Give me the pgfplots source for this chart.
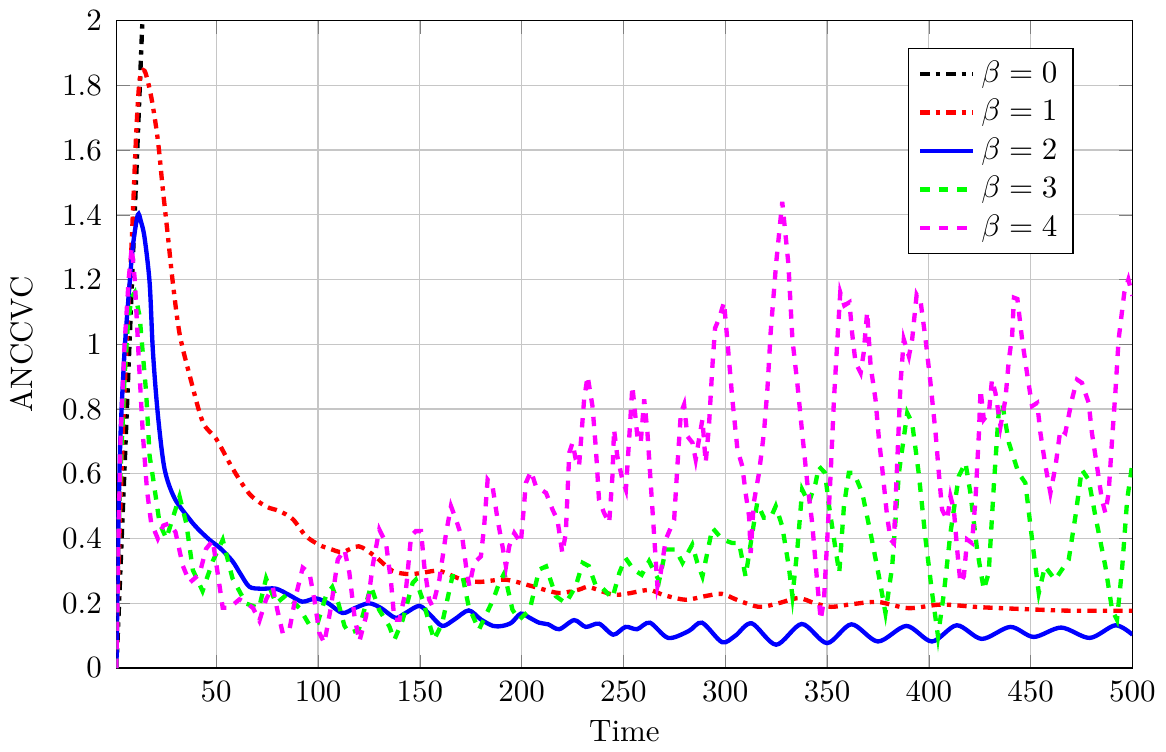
\documentclass[border=0pt]{standalone}
\usepackage{pgfplots}
\pgfplotsset{compat=1.18}
\definecolor{mag}{rgb}{1,0,1}
\definecolor{grn}{rgb}{0,1,0}
\begin{document}
\begin{tikzpicture}
\begin{axis}[
  scale only axis,
  width=328pt, height=209pt,
  xmin=1, xmax=500, ymin=0, ymax=2,
  xtick={50,100,...,500},
  ytick={0,0.2,...,2},
  yticklabels={0,0.2,0.4,0.6,0.8,1,1.2,1.4,1.6,1.8,2},
  xticklabel style={yshift=-0.8pt},
  yticklabel style={xshift=-1.2pt},
  xlabel style={yshift=0.8pt},
  ylabel style={yshift=2.5pt},
  grid=major,
  major grid style={gray!45},
  xlabel={Time}, ylabel={ANCCVC},
  legend style={at={(0.942,0.958)}, anchor=north east, cells={anchor=west}},
  legend cell align=left,
]
\addplot[black, line width=1.4pt, dash dot] coordinates {(1,0)(5,0.62)(9,1.25)(12,1.72)(14.5,2.12)};
\addlegendentry{$\beta=0$}
\addplot[red, line width=1.4pt, dash dot, smooth] coordinates {
(1,0)(2,0.3)(4,0.7)(6,1.0)(8.3,1.29)(10.7,1.65)(12.4,1.816)(14.8,1.845)(18.1,1.764)(21.3,1.633)(23.8,1.478)(26.3,1.333)(28.7,1.19)(32,1.033)(37,0.903)(43.4,0.76)(50,0.708)(58.1,0.616)(66.3,0.538)(74.5,0.499)(81,0.485)(87.6,0.46)(94,0.408)(100.7,0.38)(106,0.368)(112,0.358)(120,0.376)(128,0.345)(136.6,0.30)(145,0.29)(152,0.295)(159.6,0.30)(170,0.275)(179,0.266)(192,0.273)(205,0.253)(218,0.232)(228,0.242)(233,0.25)(244.6,0.227)(252,0.23)(262.6,0.241)(270,0.225)(280.6,0.211)(290,0.222)(298.4,0.229)(306,0.21)(316.6,0.189)(326,0.2)(336,0.216)(344,0.2)(352,0.189)(362,0.197)(375,0.204)(390,0.185)(406,0.196)(425,0.188)(447,0.182)(470,0.177)(500,0.177)};
\addlegendentry{$\beta=1$}
\addplot[blue, line width=1.4pt, smooth] coordinates {
(1,0)(2,0.45)(3,0.72)(5,0.98)(7,1.15)(9,1.30)(11.5,1.40)(13,1.38)(14.8,1.33)(17.3,1.19)(18.9,0.98)(21.3,0.786)(24.6,0.616)(29.5,0.525)(36.9,0.46)(41,0.43)(46.7,0.396)(52,0.37)(58,0.33)(62,0.29)(66.3,0.251)(72,0.245)(79.4,0.245)(86,0.225)(92.3,0.205)(99,0.215)(105,0.20)(112,0.17)(118,0.185)(125,0.20)(131,0.185)(138,0.155)(143,0.17)(149.8,0.192)(155,0.165)(161,0.13)(167,0.15)(174,0.178)(180,0.15)(186,0.13)(190.5,0.13)(195,0.14)(199.6,0.168)(204,0.155)(208.6,0.14)(213,0.135)(218.5,0.12)(225.8,0.148)(231.5,0.127)(238,0.137)(245,0.103)(251,0.127)(256.7,0.12)(263,0.14)(272,0.093)(282,0.114)(288.6,0.14)(298.4,0.08)(305,0.1)(313,0.138)(325,0.072)(337.6,0.136)(350,0.077)(362,0.135)(375,0.082)(389,0.13)(401.5,0.082)(413.7,0.132)(426,0.09)(440,0.127)(451.5,0.096)(465,0.125)(479,0.093)(491.6,0.132)(500,0.103)};
\addlegendentry{$\beta=2$}
\addplot[grn, line width=1.4pt, dashed] coordinates {
(1,0)(2,0.4)(3,0.6)(5,0.9)(6.5,1.05)(8.3,1.144)(10,1.16)(12.4,1.086)(15.6,0.85)(17.3,0.655)(18.9,0.59)(22.2,0.447)(25.5,0.40)(28,0.45)(32,0.53)(35.3,0.447)(38.5,0.303)(43.3,0.238)(48.3,0.33)(53.2,0.396)(58,0.277)(64.7,0.199)(71,0.185)(74.5,0.277)(79.4,0.199)(84.3,0.225)(90.9,0.185)(95.8,0.133)(99.8,0.139)(104,0.225)(107,0.25)(110,0.2)(113,0.13)(115.4,0.108)(120,0.118)(126,0.253)(130,0.18)(135,0.129)(137.5,0.087)(141.6,0.149)(146.5,0.263)(148,0.273)(151.4,0.211)(154.6,0.139)(157,0.087)(161,0.139)(166,0.283)(171,0.283)(174,0.19)(179,0.118)(186,0.211)(189,0.263)(191.5,0.293)(195.5,0.18)(198.8,0.149)(204,0.18)(208.6,0.304)(212,0.314)(216.8,0.222)(221.7,0.2)(226.6,0.253)(230,0.325)(233,0.315)(236.5,0.253)(239.6,0.247)(244.6,0.216)(248,0.294)(251,0.34)(255,0.304)(259,0.288)(262.6,0.33)(267.5,0.269)(270.8,0.366)(275.7,0.366)(279,0.325)(283.8,0.381)(286.3,0.325)(288.8,0.283)(290.5,0.335)(293.7,0.433)(298.6,0.397)(303.5,0.386)(306.8,0.386)(310,0.283)(313.3,0.417)(315.7,0.51)(319,0.464)(322.3,0.464)(324.8,0.5)(328,0.438)(331.2,0.314)(333,0.222)(335.4,0.366)(337.8,0.551)(341,0.51)(344.4,0.572)(346,0.623)(349,0.603)(351,0.5)(354.2,0.366)(356,0.294)(358.3,0.5)(360.7,0.603)(363.2,0.603)(367.3,0.541)(372,0.397)(375.5,0.283)(378.7,0.17)(382,0.314)(385.3,0.603)(389.4,0.788)(391.8,0.757)(395,0.603)(398.4,0.397)(401.6,0.232)(404.5,0.098)(407.4,0.232)(410.6,0.417)(414.7,0.593)(418,0.634)(420.4,0.541)(423.7,0.366)(427,0.242)(429.4,0.294)(432,0.572)(434.4,0.798)(436,0.819)(439.3,0.696)(444,0.603)(447.4,0.572)(450.7,0.397)(454,0.232)(457,0.314)(462,0.273)(468.7,0.335)(472,0.469)(475.1,0.613)(478.5,0.582)(481.8,0.469)(486.7,0.314)(490,0.18)(492.4,0.149)(495,0.314)(497.4,0.52)(500,0.634)};
\addlegendentry{$\beta=3$}
\addplot[mag, line width=1.4pt, dashed] coordinates {
(1,0)(2,0.4)(3,0.7)(5,1.0)(7,1.2)(8.5,1.3)(10,1.2)(12,0.95)(14,0.72)(16,0.55)(18,0.45)(21.3,0.40)(24,0.44)(27,0.447)(30,0.42)(33.6,0.316)(37,0.264)(41.8,0.29)(45,0.368)(48.3,0.394)(50.8,0.29)(53.2,0.186)(56.5,0.186)(61.4,0.212)(65,0.2)(68,0.186)(71.2,0.146)(74.5,0.212)(77.8,0.25)(80,0.18)(82.7,0.107)(86,0.12)(89,0.22)(92.5,0.31)(95.8,0.294)(98.2,0.211)(100.7,0.108)(103.1,0.077)(106.4,0.19)(109.7,0.335)(113,0.366)(115.4,0.294)(117.9,0.16)(120.3,0.082)(123.6,0.16)(126.8,0.314)(130.1,0.428)(133.4,0.386)(135.9,0.263)(137.5,0.149)(140,0.149)(143.2,0.242)(145.7,0.407)(148,0.423)(150.6,0.423)(152.2,0.314)(154.6,0.211)(156.3,0.19)(159.6,0.273)(162.9,0.417)(165.3,0.5)(167.8,0.458)(171,0.397)(172.7,0.314)(174.3,0.253)(176.7,0.325)(180,0.345)(181.6,0.438)(183.3,0.582)(185.7,0.562)(188.2,0.458)(190.6,0.376)(192.3,0.314)(193.9,0.376)(196.4,0.417)(199.6,0.386)(202.1,0.572)(204.6,0.608)(207,0.562)(212,0.541)(215.2,0.489)(217.6,0.458)(220,0.355)(221.7,0.417)(223.4,0.665)(225,0.696)(226.6,0.644)(228.2,0.623)(230.7,0.83)(232.4,0.902)(234.8,0.809)(236.5,0.675)(238,0.52)(240.5,0.479)(243,0.448)(244.6,0.593)(245.4,0.737)(247,0.654)(249.5,0.582)(251.2,0.551)(252.8,0.706)(254.4,0.871)(257,0.706)(258.5,0.696)(260.2,0.83)(261.8,0.727)(263.4,0.572)(265,0.417)(266.7,0.253)(268.3,0.294)(270.8,0.397)(274.9,0.458)(276.5,0.623)(278.2,0.788)(279.8,0.814)(281.4,0.716)(283.9,0.696)(285.5,0.644)(287.1,0.706)(288.8,0.768)(290.4,0.634)(292,0.747)(293.7,0.933)(295,1.05)(297,1.08)(299.4,1.13)(301,1.015)(303.5,0.83)(306,0.675)(308.4,0.623)(310,0.541)(311.7,0.469)(312.5,0.355)(314,0.51)(316.6,0.603)(319,0.726)(320.7,0.86)(322.3,1.036)(325,1.25)(328,1.44)(331,1.25)(333,1.015)(335.4,0.88)(337.8,0.726)(340.3,0.572)(342.7,0.448)(345.2,0.263)(346.9,0.149)(348.5,0.211)(350.1,0.397)(351.8,0.603)(353.4,0.83)(355,1.005)(356.5,1.16)(358.5,1.12)(361,1.13)(362.3,1.036)(364,0.943)(366.5,0.912)(368,0.974)(369.7,1.1)(371.4,0.933)(373.8,0.83)(375.5,0.706)(377,0.623)(379.5,0.469)(381.2,0.397)(382.8,0.386)(384.4,0.623)(386.1,0.881)(387.7,1.015)(390.2,0.963)(391.8,1.015)(394,1.153)(396,1.13)(398.4,1.015)(400.8,0.881)(403.3,0.726)(404.9,0.603)(406.5,0.489)(409,0.458)(410.6,0.531)(412.3,0.489)(413.9,0.366)(415.5,0.263)(417.2,0.283)(418.8,0.397)(421.2,0.386)(422.9,0.52)(424.6,0.726)(425.4,0.86)(427,0.768)(429.5,0.788)(431,0.891)(432.7,0.85)(435.2,0.747)(437.6,0.83)(439.3,0.953)(440.9,1.025)(441.8,1.144)(443.5,1.14)(445.8,1.015)(448.2,0.912)(450.7,0.809)(453.2,0.819)(454.8,0.726)(457.3,0.623)(459.7,0.541)(462.2,0.623)(464.6,0.737)(467,0.726)(470.3,0.83)(472.8,0.891)(475.2,0.881)(478.5,0.819)(480.1,0.726)(482.6,0.623)(485,0.52)(486.7,0.479)(488.3,0.541)(490,0.706)(491.6,0.85)(493.2,1.015)(496,1.16)(498,1.2)(500,1.15)};
\addlegendentry{$\beta=4$}
\end{axis}
\end{tikzpicture}
\end{document}
